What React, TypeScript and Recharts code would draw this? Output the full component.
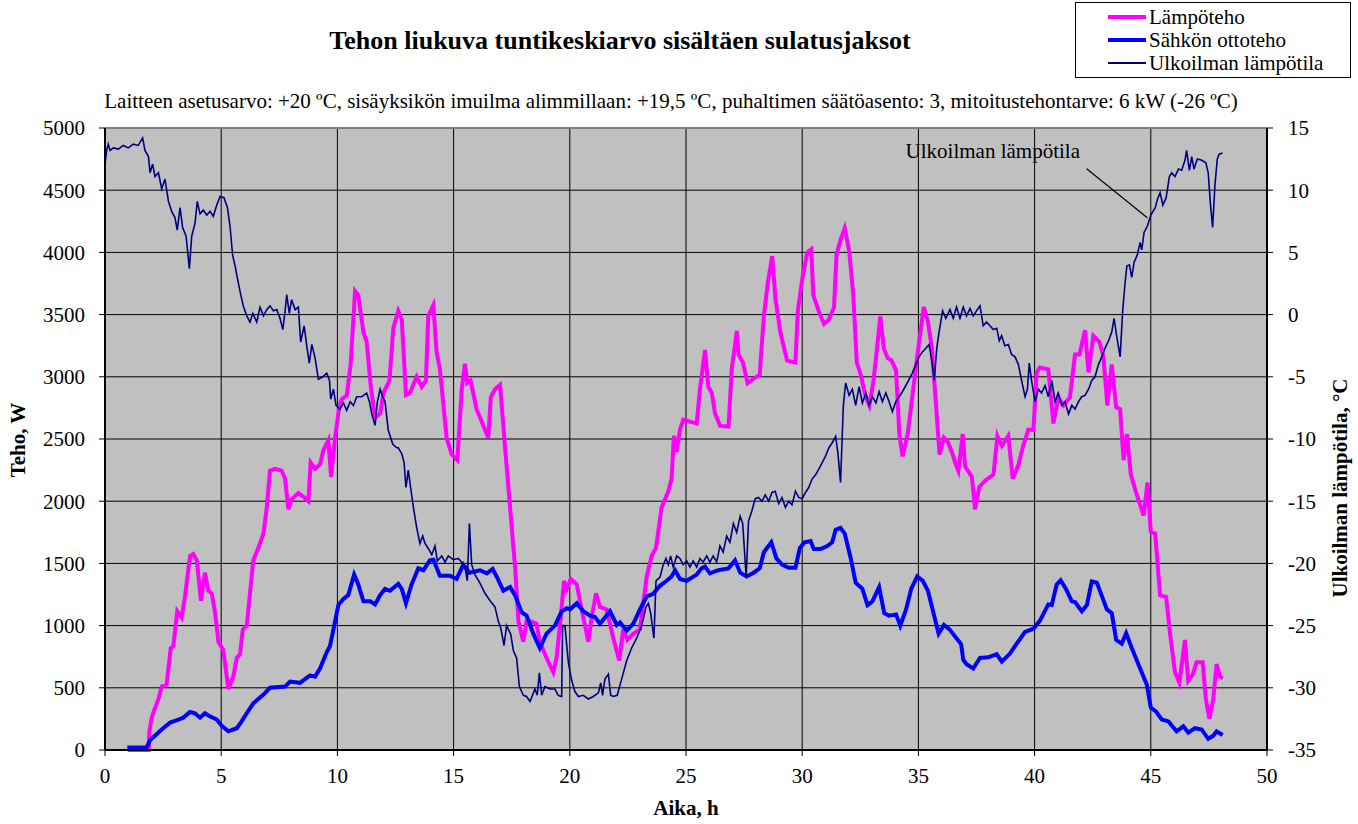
import React from 'react';
import { ComposedChart, Line, XAxis, YAxis, CartesianGrid, ReferenceLine, ReferenceDot } from 'recharts';

const FONT = '"Liberation Serif", "Times New Roman", serif';

// Lämpöteho (W)
const heatHours = [0.98,1.88,1.91,2.0,2.08,2.30,2.44,2.65,2.83,2.94,3.11,3.30,3.44,3.66,3.80,3.95,4.13,4.30,4.45,4.59,4.73,4.88,5.09,5.31,5.52,5.67,5.81,5.93,6.10,6.38,6.60,6.82,6.96,7.10,7.32,7.60,7.75,7.89,8.03,8.32,8.54,8.75,8.85,9.04,9.25,9.40,9.61,9.73,9.90,10.09,10.19,10.40,10.57,10.76,10.90,11.12,11.26,11.43,11.62,11.84,11.98,12.24,12.41,12.62,12.77,12.95,13.12,13.41,13.63,13.81,13.91,14.13,14.27,14.41,14.70,14.92,15.16,15.35,15.49,15.59,15.73,15.99,16.21,16.49,16.60,16.78,17.00,17.21,17.43,17.65,17.79,18.00,18.14,18.29,18.57,18.71,19.00,19.29,19.43,19.61,19.75,19.87,20.04,20.30,20.51,20.80,20.94,21.13,21.30,21.58,21.87,22.13,22.30,22.48,22.73,23.02,23.31,23.52,23.71,23.95,24.24,24.38,24.48,24.60,24.74,24.88,25.17,25.46,25.60,25.82,25.96,26.11,26.25,26.47,26.83,26.97,27.19,27.26,27.45,27.65,27.91,28.17,28.35,28.52,28.71,28.85,29.06,29.35,29.71,29.81,30.00,30.22,30.39,30.48,30.72,30.94,31.15,31.37,31.48,31.65,31.83,32.02,32.20,32.35,32.52,32.74,32.89,33.07,33.22,33.36,33.51,33.68,33.85,34.04,34.18,34.32,34.54,34.80,35.04,35.23,35.41,35.58,35.76,35.91,36.10,36.27,36.45,36.60,36.72,36.91,37.01,37.30,37.44,37.62,37.87,38.23,38.40,38.59,38.87,39.06,39.31,39.51,39.73,39.95,40.09,40.23,40.59,40.81,41.02,41.24,41.52,41.74,41.93,42.17,42.32,42.53,42.79,42.96,43.13,43.32,43.51,43.68,43.83,43.97,44.14,44.40,44.69,44.86,45.00,45.19,45.40,45.66,45.83,46.04,46.23,46.47,46.61,46.80,46.97,47.23,47.37,47.52,47.69,47.83,47.98,48.09];
const heatW = [0,0,150,250,300,410,510,525,820,835,1115,1065,1230,1560,1575,1525,1200,1425,1280,1260,1115,870,805,490,590,740,770,970,1000,1525,1625,1740,1950,2245,2260,2245,2180,1935,2015,2065,2035,2000,2310,2260,2295,2410,2490,2195,2510,2770,2820,2850,3100,3690,3655,3360,3280,2935,2670,2705,2870,2970,3395,3530,3460,2855,2870,3000,2920,2970,3490,3575,3195,3065,2510,2375,2330,2900,3105,2950,2970,2740,2640,2510,2835,2900,2935,2445,1950,1460,1035,870,1035,1035,1015,870,740,625,740,1065,1360,1295,1375,1330,1130,870,1065,1260,1150,1130,900,720,970,885,935,970,1395,1560,1625,1950,2080,2180,2525,2395,2575,2655,2640,2625,2900,3215,2920,2870,2705,2605,2600,3065,3370,3180,3115,2950,2985,3015,3490,3755,3970,3625,3360,3130,3115,3525,3785,4000,4025,3655,3525,3425,3460,3560,3985,4100,4195,4015,3655,3115,3015,2835,2770,2970,3230,3485,3230,3150,3130,3050,2540,2360,2540,2935,3295,3560,3445,3230,2770,2375,2510,2475,2390,2300,2245,2540,2280,2195,1935,2115,2165,2215,2525,2445,2525,2180,2295,2445,2575,2575,3035,3075,3060,2625,2835,2770,2835,3180,3180,3375,3035,3330,3280,3165,2770,3100,2755,2740,2330,2540,2215,2050,1885,2150,1755,1740,1245,1230,935,625,540,885,555,605,705,705,410,250,410,690,590,575];

// Sähkön ottoteho (W)
const elecHours = [0.96,1.79,1.94,2.15,2.44,2.80,3.16,3.37,3.66,3.87,4.09,4.30,4.52,4.81,5.02,5.31,5.67,5.88,6.10,6.38,6.82,7.10,7.75,7.96,8.39,8.82,9.04,9.25,9.54,9.68,9.83,10.04,10.26,10.47,10.72,10.90,11.12,11.41,11.62,11.84,12.05,12.26,12.62,12.77,12.95,13.19,13.48,13.70,13.98,14.13,14.41,14.85,15.13,15.42,15.68,16.14,16.43,16.68,16.85,17.14,17.43,17.64,17.93,18.14,18.43,18.71,19.00,19.36,19.65,19.87,20.01,20.30,20.58,20.87,21.08,21.30,21.73,22.02,22.16,22.45,22.73,23.02,23.31,23.59,23.88,24.17,24.38,24.53,24.74,25.03,25.46,25.67,25.82,26.03,26.39,26.83,27.11,27.33,27.61,27.91,28.17,28.35,28.67,28.89,29.13,29.42,29.71,29.90,30.10,30.36,30.50,30.79,31.08,31.29,31.44,31.65,31.83,32.09,32.30,32.59,32.81,33.02,33.31,33.53,33.74,34.04,34.22,34.47,34.69,34.95,35.19,35.41,35.63,35.87,36.10,36.34,36.63,36.84,36.93,37.07,37.36,37.65,38.01,38.37,38.59,38.94,39.23,39.59,39.95,40.23,40.59,40.74,40.95,41.12,41.35,41.60,41.74,42.03,42.25,42.46,42.68,42.90,43.11,43.32,43.51,43.75,43.94,44.18,44.54,44.83,45.00,45.22,45.47,45.76,46.11,46.40,46.61,46.90,47.19,47.47,47.69,47.83,48.09];
const elecW = [20,20,80,115,165,220,245,260,305,295,260,295,270,245,195,150,175,230,295,375,445,500,510,550,540,600,590,655,785,835,970,1165,1215,1245,1410,1330,1195,1195,1170,1245,1295,1280,1335,1295,1180,1330,1460,1445,1525,1530,1400,1400,1375,1490,1425,1445,1420,1455,1395,1280,1310,1245,1105,1080,935,820,935,1000,1115,1140,1130,1180,1115,1080,1070,1015,1115,1005,1025,960,1015,1130,1235,1255,1320,1360,1395,1445,1375,1360,1410,1460,1475,1420,1445,1460,1525,1425,1395,1425,1460,1590,1670,1540,1490,1465,1465,1625,1670,1680,1615,1615,1640,1670,1770,1785,1740,1540,1345,1295,1165,1195,1310,1100,1080,1090,1000,1130,1295,1395,1360,1280,1115,935,1005,970,900,850,725,690,655,740,745,770,710,775,855,950,975,1040,1170,1165,1330,1365,1295,1195,1190,1115,1165,1355,1345,1235,1130,1100,885,855,940,820,655,525,340,310,245,230,150,190,140,175,165,90,115,150,120];

// Ulkoilman lämpötila (°C)
const tempHours = [0.00,0.07,0.14,0.22,0.36,0.57,0.79,1.00,1.22,1.43,1.62,1.72,1.87,1.94,2.05,2.15,2.30,2.44,2.58,2.73,2.87,3.01,3.11,3.23,3.34,3.49,3.63,3.73,3.87,3.97,4.09,4.23,4.38,4.52,4.66,4.81,4.95,5.12,5.27,5.38,5.49,5.60,5.70,5.84,5.95,6.10,6.24,6.36,6.53,6.67,6.82,6.96,7.10,7.25,7.39,7.53,7.65,7.75,7.82,7.93,8.03,8.18,8.32,8.42,8.57,8.68,8.79,8.90,9.04,9.18,9.37,9.54,9.66,9.71,9.83,9.94,10.11,10.26,10.40,10.55,10.69,10.83,11.05,11.26,11.38,11.48,11.62,11.72,11.84,11.95,12.05,12.19,12.38,12.55,12.62,12.77,12.87,12.95,13.05,13.15,13.27,13.41,13.55,13.67,13.77,13.91,14.06,14.20,14.30,14.49,14.63,14.77,14.99,15.20,15.35,15.49,15.59,15.68,15.78,15.92,16.14,16.35,16.57,16.78,16.93,17.03,17.17,17.28,17.46,17.57,17.71,17.83,18.00,18.14,18.29,18.50,18.60,18.69,18.79,18.93,19.15,19.36,19.50,19.65,19.69,19.79,19.94,20.08,20.22,20.37,20.58,20.80,21.01,21.23,21.33,21.41,21.51,21.66,21.76,21.87,22.04,22.23,22.45,22.66,22.88,23.05,23.16,23.28,23.38,23.48,23.62,23.71,23.88,24.02,24.14,24.24,24.34,24.45,24.60,24.74,24.88,25.03,25.17,25.31,25.46,25.60,25.74,25.89,26.03,26.17,26.32,26.46,26.60,26.75,26.89,27.04,27.18,27.33,27.44,27.59,27.69,27.83,27.98,28.12,28.27,28.41,28.56,28.70,28.84,28.99,29.13,29.28,29.42,29.56,29.71,29.85,30.00,30.14,30.28,30.43,30.57,30.72,30.86,31.00,31.15,31.29,31.44,31.54,31.65,31.77,31.87,32.02,32.16,32.30,32.45,32.59,32.74,32.88,33.02,33.17,33.31,33.45,33.60,33.74,33.88,34.03,34.17,34.31,34.46,34.60,34.74,34.89,35.03,35.17,35.32,35.46,35.60,35.68,35.79,35.89,36.04,36.18,36.36,36.50,36.64,36.79,36.93,37.07,37.22,37.36,37.50,37.65,37.79,37.93,38.08,38.22,38.37,38.48,38.58,38.72,38.87,39.01,39.16,39.30,39.44,39.59,39.69,39.77,39.87,40.02,40.16,40.30,40.45,40.59,40.74,40.88,41.02,41.17,41.31,41.46,41.60,41.74,41.89,42.03,42.17,42.32,42.46,42.60,42.75,42.89,43.03,43.18,43.32,43.42,43.53,43.68,43.79,43.89,43.97,44.08,44.18,44.28,44.42,44.54,44.61,44.71,44.85,45.00,45.19,45.29,45.40,45.52,45.66,45.80,45.90,46.04,46.19,46.33,46.47,46.54,46.66,46.76,46.86,47.00,47.19,47.37,47.47,47.57,47.66,47.76,47.86,47.94,48.09];
const tempC = [12.1,13.2,13.7,13.2,13.4,13.3,13.6,13.4,13.7,13.6,14.2,13.2,12.7,11.4,12.1,11.1,11.4,10.1,10.9,9.1,8.3,7.8,6.8,8.6,7.0,6.3,3.7,6.3,7.3,9.1,8.1,8.4,8.0,8.3,7.9,8.8,9.5,9.4,8.6,7.1,4.8,3.9,2.9,1.6,0.7,-0.1,-0.6,0.1,-0.6,0.6,-0.1,0.4,0.7,0.3,0.4,-0.3,-1.2,0.3,1.6,0.1,1.2,0.4,0.6,-2.2,-0.9,-2.5,-3.9,-2.4,-3.5,-5.2,-5.0,-4.7,-5.3,-6.8,-6.0,-7.3,-7.6,-7.1,-7.7,-7.0,-7.3,-6.6,-6.6,-6.3,-7.0,-8.0,-8.9,-7.0,-6.0,-6.6,-7.0,-9.3,-10.4,-10.7,-10.7,-11.2,-11.9,-13.9,-12.5,-13.9,-15.5,-17.1,-18.4,-17.8,-18.4,-18.8,-19.3,-18.6,-19.8,-19.4,-19.9,-19.4,-19.7,-19.6,-19.9,-20.3,-21.4,-16.8,-20.1,-20.9,-21.6,-22.4,-23.0,-23.5,-24.7,-25.2,-26.6,-25.0,-25.7,-27.0,-27.6,-29.9,-30.6,-30.7,-31.1,-30.1,-30.6,-28.8,-30.6,-29.9,-30.1,-30.1,-30.6,-30.7,-25.0,-25.0,-28.0,-29.4,-30.3,-30.7,-30.6,-30.9,-30.7,-30.4,-29.6,-30.6,-29.3,-28.9,-30.6,-30.7,-30.6,-29.3,-27.8,-26.8,-26.0,-25.2,-24.5,-23.5,-23.2,-24.0,-26.0,-21.4,-21.1,-20.1,-19.6,-20.1,-19.4,-20.3,-19.4,-19.6,-20.1,-19.8,-20.3,-19.8,-20.3,-19.6,-19.9,-19.4,-19.9,-19.4,-19.9,-18.6,-19.1,-17.8,-18.3,-16.8,-17.5,-16.2,-16.8,-21.1,-16.6,-15.8,-14.8,-14.7,-15.0,-14.5,-15.0,-14.3,-14.2,-15.2,-14.7,-15.5,-15.0,-15.3,-14.2,-14.7,-14.8,-14.3,-13.9,-13.2,-12.9,-12.4,-11.9,-11.4,-10.7,-10.3,-9.8,-11.2,-13.5,-7.3,-5.5,-6.5,-6.0,-7.3,-5.8,-7.1,-6.3,-7.3,-6.6,-7.1,-6.2,-7.0,-6.3,-7.0,-7.8,-7.0,-6.6,-6.2,-5.7,-5.2,-4.7,-4.0,-3.4,-3.0,-2.7,-2.4,-4.0,-5.3,-2.7,-1.4,0.3,-0.3,0.4,-0.3,0.6,-0.3,0.6,-0.1,0.5,-0.1,0.3,0.7,-0.9,-0.6,-0.9,-1.2,-1.1,-2.1,-1.7,-2.5,-2.4,-3.2,-3.4,-4.0,-5.3,-6.6,-6.0,-3.9,-5.3,-7.0,-6.0,-6.3,-5.7,-6.6,-5.3,-7.0,-6.3,-7.3,-7.0,-8.0,-7.3,-7.6,-7.0,-6.6,-6.5,-6.0,-5.3,-5.0,-4.0,-3.4,-2.7,-2.1,-1.4,-0.3,-1.7,-3.4,0.3,2.5,3.9,4.0,3.0,4.2,4.8,5.8,5.2,6.6,7.1,8.0,8.6,9.3,9.8,8.8,9.4,11.1,11.4,11.1,11.7,11.6,12.4,13.2,11.6,12.7,11.7,12.5,12.4,12.2,11.4,8.8,7.0,10.4,12.5,12.9,13.0];

const xTicks = [0, 5, 10, 15, 20, 25, 30, 35, 40, 45, 50];
const leftTicks = [0, 500, 1000, 1500, 2000, 2500, 3000, 3500, 4000, 4500, 5000];
const rightTicks = [-35, -30, -25, -20, -15, -10, -5, 0, 5, 10, 15];
const minorX = Array.from({ length: 51 }, (_, i) => i);
const minorLeft = Array.from({ length: 51 }, (_, i) => i * 100);
const minorRight = Array.from({ length: 51 }, (_, i) => i - 35);

const heatData = heatHours.map((h, i) => ({ h, v: heatW[i] }));
const elecData = elecHours.map((h, i) => ({ h, v: elecW[i] }));
const tempData = tempHours.map((h, i) => ({ h, v: tempC[i] }));

const legendItems = [
  { name: 'Lämpöteho', color: '#FF00FF', w: 4 },
  { name: 'Sähkön ottoteho', color: '#0000FF', w: 4 },
  { name: 'Ulkoilman lämpötila', color: '#000080', w: 2 },
];

const tickStyle = { fill: '#000', fontSize: 21, fontFamily: FONT };

export default function App() {
  return (
    <div style={{ position: 'absolute', left: 0, top: 0, width: 1358, height: 824, background: '#fff', fontFamily: FONT, color: '#000' }}>
      <ComposedChart width={1358} height={824} margin={{ top: 128, right: 31, bottom: 44, left: 45 }} style={{ fontFamily: FONT }}>
        <CartesianGrid stroke="#000" strokeWidth={1} fill="#C0C0C0" fillOpacity={1} />
        <XAxis dataKey="h" type="number" domain={[0, 50]} ticks={xTicks} interval={0} height={30}
          tickSize={6} tickMargin={12} axisLine={{ stroke: '#000', strokeWidth: 2 }} tickLine={{ stroke: '#000' }} tick={tickStyle} />
        <XAxis xAxisId="mx" dataKey="h" type="number" domain={[0, 50]} ticks={minorX} interval={0} height={0} mirror
          tickSize={5} tick={false} axisLine={false} tickLine={{ stroke: '#000' }} />
        <YAxis type="number" domain={[0, 5000]} ticks={leftTicks} interval={0} width={60}
          tickSize={6} tickMargin={14} axisLine={{ stroke: '#000', strokeWidth: 2 }} tickLine={{ stroke: '#000' }} tick={tickStyle} />
        <YAxis yAxisId="ml" type="number" domain={[0, 5000]} ticks={minorLeft} interval={0} width={0} mirror
          tickSize={5} tick={false} axisLine={false} tickLine={{ stroke: '#000' }} />
        <YAxis yAxisId="right" orientation="right" type="number" domain={[-35, 15]} ticks={rightTicks} interval={0} width={60}
          tickSize={6} tickMargin={15} axisLine={{ stroke: '#000', strokeWidth: 2 }} tickLine={{ stroke: '#000' }} tick={tickStyle} />
        <YAxis yAxisId="mr" orientation="right" type="number" domain={[-35, 15]} ticks={minorRight} interval={0} width={0} mirror
          tickSize={5} tick={false} axisLine={false} tickLine={{ stroke: '#000' }} />
        <ReferenceLine y={5000} stroke="#808080" strokeWidth={2} />
        <Line data={heatData} dataKey="v" name="Lämpöteho" type="linear" stroke="#FF00FF" strokeWidth={4} dot={false} isAnimationActive={false} />
        <Line data={elecData} dataKey="v" name="Sähkön ottoteho" type="linear" stroke="#0000FF" strokeWidth={4} dot={false} isAnimationActive={false} />
        <Line data={tempData} dataKey="v" yAxisId="right" name="Ulkoilman lämpötila" type="linear" stroke="#000080" strokeWidth={1.6} dot={false} isAnimationActive={false} />
        <ReferenceLine yAxisId="right" segment={[{ x: 42.24, y: 11.72 }, { x: 44.85, y: 7.79 }]} stroke="#000" strokeWidth={1.2} />
        <ReferenceDot yAxisId="right" x={38.2} y={13.2} r={0} fill="none" stroke="none"
          label={{ value: 'Ulkoilman lämpötila', position: 'center', fill: '#000', fontSize: 21, fontFamily: FONT }} />
      </ComposedChart>

      <div style={{ position: 'absolute', left: 620, top: 28, transform: 'translateX(-50%)', whiteSpace: 'nowrap', fontSize: 26, lineHeight: '26px', fontWeight: 'bold' }}>
        Tehon liukuva tuntikeskiarvo sisältäen sulatusjaksot
      </div>
      <div style={{ position: 'absolute', left: 671, top: 91, transform: 'translateX(-50%)', whiteSpace: 'nowrap', fontSize: 21, lineHeight: '21px' }}>
        Laitteen asetusarvo: +20 ºC, sisäyksikön imuilma alimmillaan: +19,5 ºC, puhaltimen säätöasento: 3, mitoitustehontarve: 6 kW (-26 ºC)
      </div>
      <div style={{ position: 'absolute', left: 18, top: 440, transform: 'translate(-50%, -50%) rotate(-90deg)', whiteSpace: 'nowrap', fontSize: 21, lineHeight: '21px', fontWeight: 'bold' }}>
        Teho, W
      </div>
      <div style={{ position: 'absolute', left: 1340, top: 488, transform: 'translate(-50%, -50%) rotate(-90deg)', whiteSpace: 'nowrap', fontSize: 21, lineHeight: '21px', fontWeight: 'bold' }}>
        Ulkoilman lämpötila, °C
      </div>
      <div style={{ position: 'absolute', left: 686, top: 808, transform: 'translate(-50%, -50%)', whiteSpace: 'nowrap', fontSize: 21, lineHeight: '21px', fontWeight: 'bold' }}>
        Aika, h
      </div>

      <div style={{ position: 'absolute', left: 1075, top: 2, width: 274, height: 74, border: '1px solid #000', background: '#fff' }}>
        {legendItems.map((it, i) => (
          <div key={it.name} style={{ position: 'absolute', left: 0, top: 3 + i * 23, height: 22, width: 274 }}>
            <div style={{ position: 'absolute', left: 32, top: 11 - it.w / 2, width: 38, height: it.w, background: it.color }} />
            <div style={{ position: 'absolute', left: 73, top: 0, fontSize: 21, lineHeight: '22px', whiteSpace: 'nowrap' }}>{it.name}</div>
          </div>
        ))}
      </div>
    </div>
  );
}
